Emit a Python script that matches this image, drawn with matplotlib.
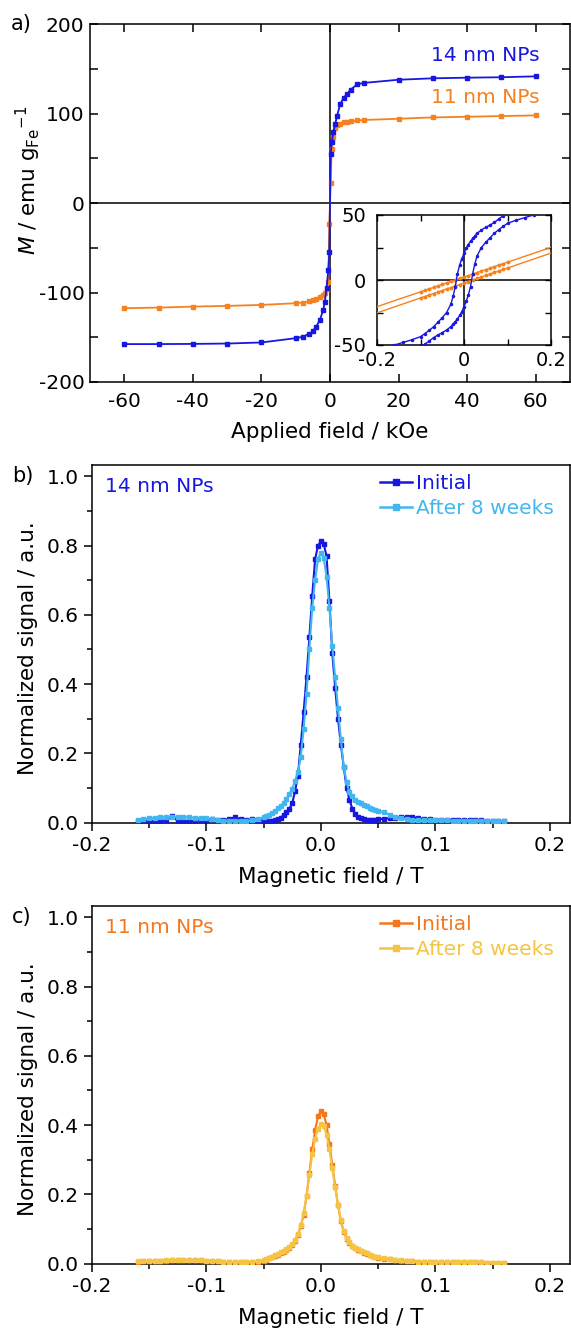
import numpy as np
import matplotlib.pyplot as plt
from matplotlib.lines import Line2D
from matplotlib.ticker import MultipleLocator, FormatStrFormatter

plt.rcParams['font.family'] = 'DejaVu Sans'
plt.rcParams['mathtext.fontset'] = 'dejavusans'
plt.rcParams['axes.unicode_minus'] = False
plt.rcParams['font.size'] = 14

BLUE = '#1717e0'
LBLUE = '#42b6f0'
ORANGE = '#f5821f'
ORANGE_C = '#f5761c'
YELLOW = '#f5c443'

# ---------------- panel a: magnetisation loops ----------------
field_koe = [-60, -50, -40, -30, -20, -10, -8, -6, -5, -4, -3, -2, -1.5, -1, -0.5, -0.2,
             0.2, 0.5, 1, 1.5, 2, 3, 4, 5, 6, 8, 10, 20, 30, 40, 50, 60]
m_14nm = [-157.6, -157.6, -157.4, -157.0, -155.8, -151.0, -149.5, -146.0, -143.0, -138.0,
          -131.0, -120.0, -110.0, -95.0, -75.0, -55.0,
          55.0, 68.0, 80.0, 88.0, 97.0, 111.0, 118.0, 122.0, 127.0, 133.0, 134.5, 138.0,
          139.6, 140.3, 140.8, 141.8]
m_11nm = [-117.5, -116.8, -115.7, -114.9, -113.8, -111.9, -111.2, -109.5, -108.5, -107.0,
          -105.0, -103.0, -100.0, -96.5, -88.0, -23.0,
          23.0, 60.0, 73.5, 84.0, 87.0, 89.0, 90.3, 91.0, 91.4, 92.5, 93.0, 94.4,
          95.9, 96.6, 97.4, 98.1]

# inset: low field part of the loops
inset_field = [-0.20, -0.18, -0.16, -0.14, -0.12, -0.10, -0.09, -0.08, -0.07, -0.06, -0.05,
               -0.04, -0.03, -0.025, -0.02, -0.015, -0.01, -0.005, 0.0, 0.005, 0.01, 0.015,
               0.02, 0.025, 0.03, 0.04, 0.05, 0.06, 0.07, 0.08, 0.09, 0.10, 0.12, 0.14,
               0.16, 0.18, 0.20]
inset_14_down = [-53, -51.5, -50, -48, -46, -43.6, -41.2, -38.8, -36, -32.5, -29, -25, -18.5,
                 -12.5, -5, 5, 11.5, 16.5, 20.5, 24.4, 27.3, 29.8, 32, 34, 35.8, 38.5, 40.5,
                 42.3, 44.3, 47, 49.5, 51, 53, 54.5, 55.5, 56.3, 57]
inset_14_up = [-57, -56.3, -55.5, -54.5, -53, -51, -49.5, -47, -44.3, -42.3, -40.5, -38.5,
               -35.8, -34, -32, -29.8, -27.3, -24.4, -20.5, -16.5, -11.5, -5, 5, 12.5, 18.5,
               25, 29, 32.5, 36, 38.8, 41.2, 43.6, 46, 48, 50, 51.5, 53]
inset_field_11 = [-0.30, -0.10, -0.09, -0.08, -0.07, -0.06, -0.05, -0.04, -0.03, -0.02, -0.01,
                  0.0, 0.01, 0.02, 0.03, 0.04, 0.05, 0.06, 0.07, 0.08, 0.09, 0.10, 0.30]
inset_11_down = [-31.9, -9.1, -8.0, -6.8, -5.7, -4.5, -3.4, -2.3, -1.1, 0.0, 1.2, 2.3, 3.4,
                 4.6, 5.7, 6.9, 8.0, 9.1, 10.3, 11.4, 12.6, 13.7, 36.5]
inset_11_up = [-36.8, -13.8, -12.7, -11.5, -10.4, -9.2, -8.1, -6.9, -5.8, -4.6, -3.5, -2.3,
               -1.2, 0.0, 1.2, 2.3, 3.5, 4.6, 5.8, 6.9, 8.1, 9.2, 32.2]

# ---------------- panels b, c: normalised signal ----------------
field_t = [-0.160, -0.155, -0.150, -0.145, -0.140, -0.135, -0.130, -0.125, -0.120, -0.115, -0.110,
           -0.105, -0.100, -0.095, -0.090, -0.085, -0.080, -0.075, -0.070, -0.065, -0.060, -0.055,
           -0.0500, -0.0475, -0.0450, -0.0425, -0.0400, -0.0375, -0.0350, -0.0325, -0.0300, -0.0275,
           -0.0250, -0.0225, -0.0200, -0.0175, -0.0150, -0.0125, -0.0100, -0.0075, -0.0050, -0.0025,
           0.0000,
           0.0025, 0.0050, 0.0075, 0.0100, 0.0125, 0.0150, 0.0175, 0.0200, 0.0225, 0.0250,
           0.0275, 0.0300, 0.0325, 0.0350, 0.0375, 0.0400, 0.0425, 0.0450, 0.0475, 0.0500,
           0.055, 0.060, 0.065, 0.070, 0.075, 0.080, 0.085, 0.090, 0.095, 0.100, 0.105,
           0.110, 0.115, 0.120, 0.125, 0.130, 0.135, 0.140, 0.145, 0.150, 0.155, 0.160]

b_initial = [0.004, 0.005, 0.004, 0.005, 0.004, 0.006, 0.018, 0.005, 0.004, 0.004, 0.005,
             0.006, 0.007, 0.009, 0.008, 0.006, 0.010, 0.015, 0.009, 0.007, 0.010, 0.008,
             0.005, 0.004, 0.004, 0.005, 0.007, 0.010, 0.014, 0.021, 0.030, 0.040,
             0.055, 0.090, 0.135, 0.225, 0.320, 0.420, 0.535, 0.655, 0.760, 0.800,
             0.812,
             0.805, 0.770, 0.640, 0.490, 0.390, 0.300, 0.225, 0.160, 0.100, 0.065,
             0.040, 0.026, 0.017, 0.012, 0.010, 0.008, 0.007, 0.006, 0.007, 0.009,
             0.011, 0.0125, 0.014, 0.015, 0.017, 0.016, 0.012, 0.010, 0.009, 0.008, 0.008,
             0.008, 0.008, 0.007, 0.007, 0.006, 0.006, 0.006, 0.005, 0.004, 0.003, 0.003]
b_after = [0.008, 0.010, 0.012, 0.014, 0.015, 0.015, 0.015, 0.016, 0.015, 0.015, 0.014,
           0.013, 0.012, 0.009, 0.006, 0.005, 0.004, 0.004, 0.004, 0.005, 0.006, 0.010,
           0.015, 0.019, 0.023, 0.027, 0.034, 0.041, 0.048, 0.057, 0.068, 0.082,
           0.097, 0.120, 0.145, 0.190, 0.270, 0.370, 0.500, 0.620, 0.700, 0.760,
           0.780,
           0.765, 0.710, 0.620, 0.510, 0.420, 0.330, 0.240, 0.160, 0.117, 0.087,
           0.078, 0.066, 0.060, 0.055, 0.051, 0.047, 0.043, 0.040, 0.037, 0.034,
           0.029, 0.023, 0.017, 0.012, 0.009, 0.007, 0.006, 0.006, 0.006, 0.006, 0.006,
           0.006, 0.005, 0.005, 0.005, 0.005, 0.005, 0.004, 0.004, 0.004, 0.003, 0.003]

c_initial = [0.005, 0.006, 0.007, 0.007, 0.008, 0.008, 0.009, 0.009, 0.010, 0.010, 0.010,
             0.009, 0.008, 0.007, 0.006, 0.005, 0.004, 0.004, 0.003, 0.003, 0.003, 0.005,
             0.008, 0.011, 0.015, 0.019, 0.022, 0.026, 0.030, 0.034, 0.039, 0.045,
             0.053, 0.065, 0.083, 0.108, 0.140, 0.195, 0.262, 0.330, 0.385, 0.425,
             0.440,
             0.432, 0.400, 0.345, 0.285, 0.225, 0.168, 0.122, 0.092, 0.072, 0.060,
             0.050, 0.044, 0.039, 0.035, 0.031, 0.028, 0.025, 0.022, 0.019, 0.017,
             0.014, 0.012, 0.010, 0.008, 0.007, 0.006, 0.005, 0.005, 0.005, 0.004, 0.004,
             0.004, 0.004, 0.003, 0.003, 0.003, 0.003, 0.003, 0.002, 0.002, 0.002, 0.002]
c_after = [0.006, 0.007, 0.007, 0.008, 0.008, 0.009, 0.009, 0.010, 0.010, 0.010, 0.009,
           0.009, 0.008, 0.007, 0.006, 0.005, 0.004, 0.004, 0.003, 0.003, 0.004, 0.006,
           0.009, 0.012, 0.016, 0.020, 0.024, 0.028, 0.032, 0.036, 0.041, 0.047,
           0.056, 0.068, 0.085, 0.110, 0.145, 0.195, 0.255, 0.315, 0.360, 0.390,
           0.402,
           0.396, 0.372, 0.330, 0.275, 0.220, 0.170, 0.126, 0.095, 0.075, 0.062,
           0.052, 0.046, 0.041, 0.036, 0.032, 0.029, 0.026, 0.023, 0.020, 0.018,
           0.015, 0.013, 0.011, 0.009, 0.007, 0.006, 0.005, 0.005, 0.005, 0.004, 0.004,
           0.004, 0.004, 0.003, 0.003, 0.003, 0.003, 0.003, 0.002, 0.002, 0.002, 0.002]

W, H = 571, 1329
fig = plt.figure(figsize=(W / 100, H / 100), dpi=100)


def px_axes(x0, y0, x1, y1):
    # axes placed by pixel box (top-left origin)
    return fig.add_axes([x0 / W, 1 - y1 / H, (x1 - x0) / W, (y1 - y0) / H])


# ---------------- a) ----------------
ax = px_axes(90, 24.3, 570, 382)
ax.axhline(0, color='k', lw=1.1, zorder=1)
ax.axvline(0, color='k', lw=1.1, zorder=1)
ax.plot(field_koe, m_11nm, '-s', color=ORANGE, lw=1.3, ms=3.3, zorder=3)
ax.plot(field_koe, m_14nm, '-s', color=BLUE, lw=1.3, ms=3.3, zorder=3)
ax.set_xlim(-70, 70)
ax.set_ylim(-200, 200)
ax.xaxis.set_major_locator(MultipleLocator(20))
ax.yaxis.set_major_locator(MultipleLocator(100))
ax.yaxis.set_minor_locator(MultipleLocator(50))
ax.tick_params(which='both', direction='in', top=True, right=True, length=6, width=1.1)
ax.tick_params(axis='x', pad=7, labelsize=14.5)
ax.tick_params(axis='y', pad=4, labelsize=14.5)
for s in ax.spines.values():
    s.set_linewidth(1.1)
ax.text(61, 165, '14 nm NPs', color=BLUE, ha='right', va='center', fontsize=14.5)
ax.text(61, 118, '11 nm NPs', color=ORANGE, ha='right', va='center', fontsize=14.5)

axi = px_axes(377, 215, 551, 345)
axi.axhline(0, color='k', lw=1.1, zorder=1)
axi.axvline(0, color='k', lw=1.1, zorder=1)
axi.plot(inset_field_11, inset_11_down, '-o', color=ORANGE, lw=1.0, ms=1.8, zorder=3)
axi.plot(inset_field_11, inset_11_up, '-o', color=ORANGE, lw=1.0, ms=1.8, zorder=3)
axi.plot(inset_field, inset_14_down, '-o', color=BLUE, lw=1.0, ms=1.5, zorder=3)
axi.plot(inset_field, inset_14_up, '-o', color=BLUE, lw=1.0, ms=1.5, zorder=3)
axi.set_xlim(-0.2, 0.2)
axi.set_ylim(-50, 50)
axi.xaxis.set_major_locator(MultipleLocator(0.2))
axi.xaxis.set_minor_locator(MultipleLocator(0.1))
axi.yaxis.set_major_locator(MultipleLocator(50))
axi.yaxis.set_minor_locator(MultipleLocator(25))
axi.xaxis.set_major_formatter(plt.FuncFormatter(lambda v, p: '0' if abs(v) < 1e-9 else '%.1f' % v))
axi.tick_params(which='both', direction='in', top=True, right=True, length=4, width=1.0)
axi.tick_params(axis='x', pad=4.5, labelsize=14)
axi.tick_params(axis='y', pad=8, labelsize=14)
for s in axi.spines.values():
    s.set_linewidth(1.1)

fig.text(11 / W, 1 - 24 / H, 'a)', ha='left', va='center', fontsize=15)
fig.text(330 / W, 1 - 438 / H, 'Applied field / kOe', ha='center', va='baseline', fontsize=15.5)
fig.text(36.5 / W, 1 - 180 / H, r'$\mathit{M}$ / emu g$_{\mathrm{Fe}}{}^{-1}$', rotation=90,
         rotation_mode='anchor', ha='center', va='baseline', fontsize=15.5)


# ---------------- b), c) ----------------
def signal_panel(y0, y1, init, after, c_init, c_after, name, c_name, tag):
    axp = px_axes(91.7, y0, 570, y1)
    axp.plot(field_t, init, '-s', color=c_init, lw=1.5, ms=3.3, zorder=3)
    axp.plot(field_t, after, '-s', color=c_after, lw=1.5, ms=3.5, zorder=4)
    axp.set_xlim(-0.2, 0.2175)
    axp.set_ylim(0, 1.033)
    axp.xaxis.set_major_locator(MultipleLocator(0.1))
    axp.xaxis.set_minor_locator(MultipleLocator(0.05))
    axp.yaxis.set_major_locator(MultipleLocator(0.2))
    axp.yaxis.set_minor_locator(MultipleLocator(0.1))
    axp.xaxis.set_major_formatter(FormatStrFormatter('%.1f'))
    axp.yaxis.set_major_formatter(FormatStrFormatter('%.1f'))
    axp.tick_params(which='both', direction='out', top=False, right=False, width=1.1)
    axp.tick_params(which='major', length=6)
    axp.tick_params(which='minor', length=3.5)
    axp.tick_params(axis='x', pad=3.5, labelsize=14.5)
    axp.tick_params(axis='y', pad=3.2, labelsize=14.5)
    for s in axp.spines.values():
        s.set_linewidth(1.1)
    axp.text(0.027, 0.94, name, color=c_name, transform=axp.transAxes,
             ha='left', va='center', fontsize=14.5)
    handles = [Line2D([], [], color=c_init, marker='s', lw=1.8, ms=5),
               Line2D([], [], color=c_after, marker='s', lw=1.8, ms=5)]
    leg = axp.legend(handles, ['Initial', 'After 8 weeks'], loc='upper left',
                     bbox_to_anchor=(0.603, 0.975), frameon=False, fontsize=14.5,
                     handlelength=1.6, handletextpad=0.2, borderpad=0, borderaxespad=0,
                     labelspacing=0.32)
    for t, c in zip(leg.get_texts(), [c_init, c_after]):
        t.set_color(c)
    top_px = y0 + (y1 - y0) * (1 - 1.0 / 1.033)
    fig.text(12 / W, 1 - top_px / H, tag, ha='left', va='center', fontsize=15)
    fig.text(331 / W, 1 - (y1 + 60.5) / H, 'Magnetic field / T', ha='center',
             va='baseline', fontsize=15.5)
    fig.text(34.5 / W, 1 - ((y0 + y1) / 2 + 4) / H, 'Normalized signal / a.u.', rotation=90,
             rotation_mode='anchor', ha='center', va='baseline', fontsize=15.5)
    return axp


signal_panel(465, 822.5, b_initial, b_after, BLUE, LBLUE, '14 nm NPs', BLUE, 'b)')
signal_panel(906, 1263.5, c_initial, c_after, ORANGE_C, YELLOW, '11 nm NPs', ORANGE_C, 'c)')

fig.savefig('out.png', dpi=100)
